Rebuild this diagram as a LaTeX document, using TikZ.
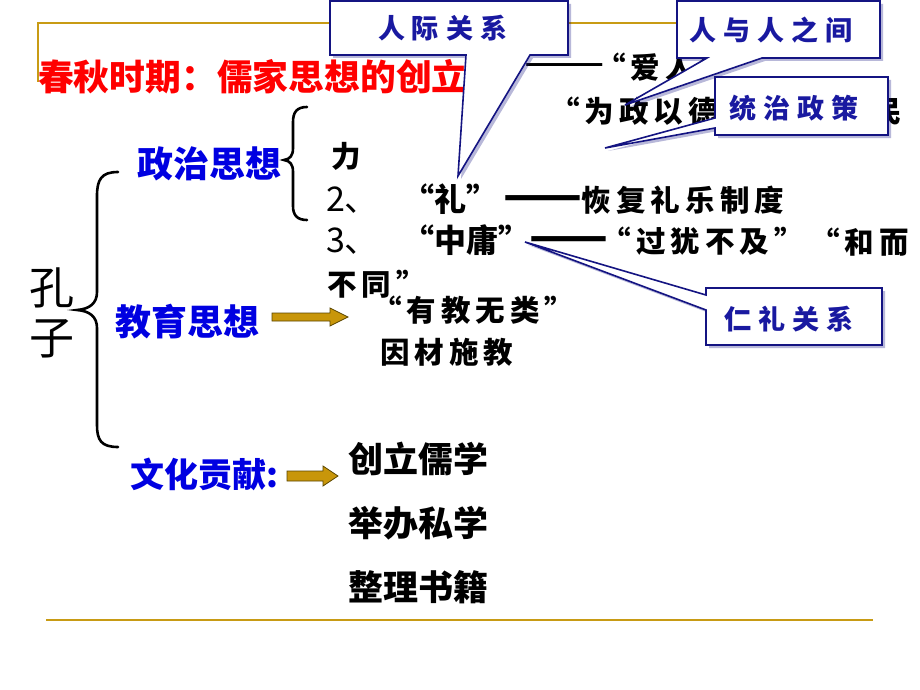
\documentclass[tikz,border=0pt]{standalone}
\usepackage{fontspec}
\usetikzlibrary{shadows}
\newfontfamily\cjk{Noto Sans CJK SC}
\newfontfamily\cjksp[LetterSpace=17]{Noto Sans CJK SC}
\newfontfamily\cjkwide[LetterSpace=26]{Noto Sans CJK SC}
\newcommand{\thindash}{{\cjk\mdseries\fontsize{48}{50}\selectfont ——}}
\newcommand{\thickdash}{{\cjk\bfseries\fontsize{46}{50}\selectfont ——}}
\definecolor{framegold}{RGB}{200,155,20}
\definecolor{arrowgold}{RGB}{200,150,10}
\definecolor{arrowedge}{RGB}{90,70,0}
\definecolor{navy}{RGB}{20,20,130}
\definecolor{ctxt}{RGB}{25,25,160}
\definecolor{headblue}{RGB}{0,0,225}
\tikzset{
  txt/.style={anchor=base west, inner sep=0pt, outer sep=0pt},
  blacktxt/.style={txt, font=\cjksp\bfseries\fontsize{29.5}{32}\selectfont},
  sanstxt/.style={txt, font=\cjk\fontsize{34}{38}\selectfont},
  quotetxt/.style={txt, font=\cjk\bfseries\fontsize{32}{36}\selectfont},
  bluehead/.style={txt, text=headblue, font=\cjk\bfseries\fontsize{36}{40}\selectfont},
  listtxt/.style={txt, font=\cjk\bfseries\fontsize{35}{40}\selectfont},
  callout/.style={draw=navy, line width=1.6pt, fill=white, line join=miter,
    drop shadow={shadow xshift=3pt, shadow yshift=-3pt, opacity=.3, fill=navy}},
  ctext/.style={txt, text=ctxt, font=\cjkwide\bfseries\fontsize{27}{30}\selectfont},
  blockarrow/.style={fill=arrowgold, draw=arrowedge, line width=0.8pt},
  brace/.style={line width=2.6pt, line cap=round},
  goldline/.style={draw=framegold, line width=1.6pt}
}
\begin{document}
\begin{tikzpicture}[x=1pt,y=-1pt]
\useasboundingbox (0,0) rectangle (920,690);
\clip (0,0) rectangle (920,690);
\fill[white] (0,0) rectangle (920,690);

% frame lines
\draw[goldline] (38,82) -- (38,23) -- (690,23);
\draw[goldline, line width=2pt] (46,620) -- (873,620);

% first line (mostly covered)
\node[blacktxt] (airen) at (524,79) {\thindash\kern-8pt “爱人”};

% title
\node[txt, text=red, font=\cjk\bfseries\fontsize{35.8}{40}\selectfont] (title) at (38,91) {春秋时期：儒家思想的创立};

\node[blacktxt] (wz) at (550,123) {“为政以德};
\node[blacktxt] (min) at (872,123) {民};
\node[blacktxt] (li) at (331,167) {力};

% line 2
\node[sanstxt] (n2) at (326,211) {2、};
\node[quotetxt] (liq) at (402,211) {“礼”};
\node[blacktxt] (hf) at (503,211) {\thickdash 恢复礼乐制度};

% line 3
\node[sanstxt] (n3) at (326,252) {3、};
\node[quotetxt] (zy) at (402,252) {“中庸”};
\node[blacktxt] (gy) at (529,252) {\thickdash\kern-6pt “过犹不及”};
\node[blacktxt] (he) at (810,253) {“和而};
\node[blacktxt] (bt) at (327,295) {不同”};

% education
\node[blacktxt] (yj) at (372,321) {“有教无类”};
\node[blacktxt] (yc) at (380,363) {因材施教};

% Kongzi
\node[txt, font=\cjk\fontsize{45}{50}\selectfont] (kong) at (29,304) {孔};
\node[txt, font=\cjk\fontsize{45}{50}\selectfont] (zi) at (29,354) {子};

% blue headings
\node[bluehead] (zz) at (137,177) {政治思想};
\node[bluehead] (jy) at (115,335) {教育思想};
\node[bluehead, font=\cjk\bfseries\fontsize{34}{40}\selectfont] (wh) at (130,487) {文化贡献:};

% list
\node[listtxt] (c1) at (348,472) {创立儒学};
\node[listtxt] (c2) at (348,536) {举办私学};
\node[listtxt] (c3) at (348,600) {整理书籍};

% braces
\draw[brace] (118,172) .. controls (101,172) and (97,180) .. (97,196) -- (97,292)
  .. controls (97,303) and (90,309) .. (77,310) .. controls (90,311) and (97,317) .. (97,328)
  -- (97,425) .. controls (97,440) and (101,447) .. (118,447);
\draw[brace] (307,107) .. controls (297,107) and (293,112) .. (293,122) -- (293,148)
  .. controls (293,156) and (290,159) .. (284,160) .. controls (290,161) and (293,164) .. (293,172)
  -- (293,206) .. controls (293,215) and (297,220) .. (307,220);

% block arrows
\draw[blockarrow] (272,313) -- (330,313) -- (330,308) -- (348,317) -- (330,326) -- (330,321) -- (272,321) -- cycle;
\draw[blockarrow] (287,471) -- (323,471) -- (323,466) -- (338,476) -- (323,486) -- (323,481) -- (287,481) -- cycle;

% callouts
\draw[callout] (330,1) -- (568,1) -- (568,55) -- (530,55) -- (458,176) -- (466,55) -- (330,55) -- cycle;
\draw[callout] (677,1) -- (880,1) -- (880,58) -- (762,58) -- (625,105) -- (707,58) -- (677,58) -- cycle;
\draw[callout] (715,77) -- (888,77) -- (888,135) -- (715,135) -- (715,128) -- (605,148) -- (715,118) -- cycle;
\draw[callout] (706,288) -- (882,288) -- (882,345) -- (706,345) -- (706,310) -- (525,242) -- (706,295) -- cycle;

\node[ctext] (t1) at (378,39) {人际关系};
\node[ctext] (t2) at (689,41) {人与人之间};
\node[ctext] (t3) at (729,119) {统治政策};
\node[ctext] (t4) at (724,329) {仁礼关系};
\end{tikzpicture}
\end{document}
